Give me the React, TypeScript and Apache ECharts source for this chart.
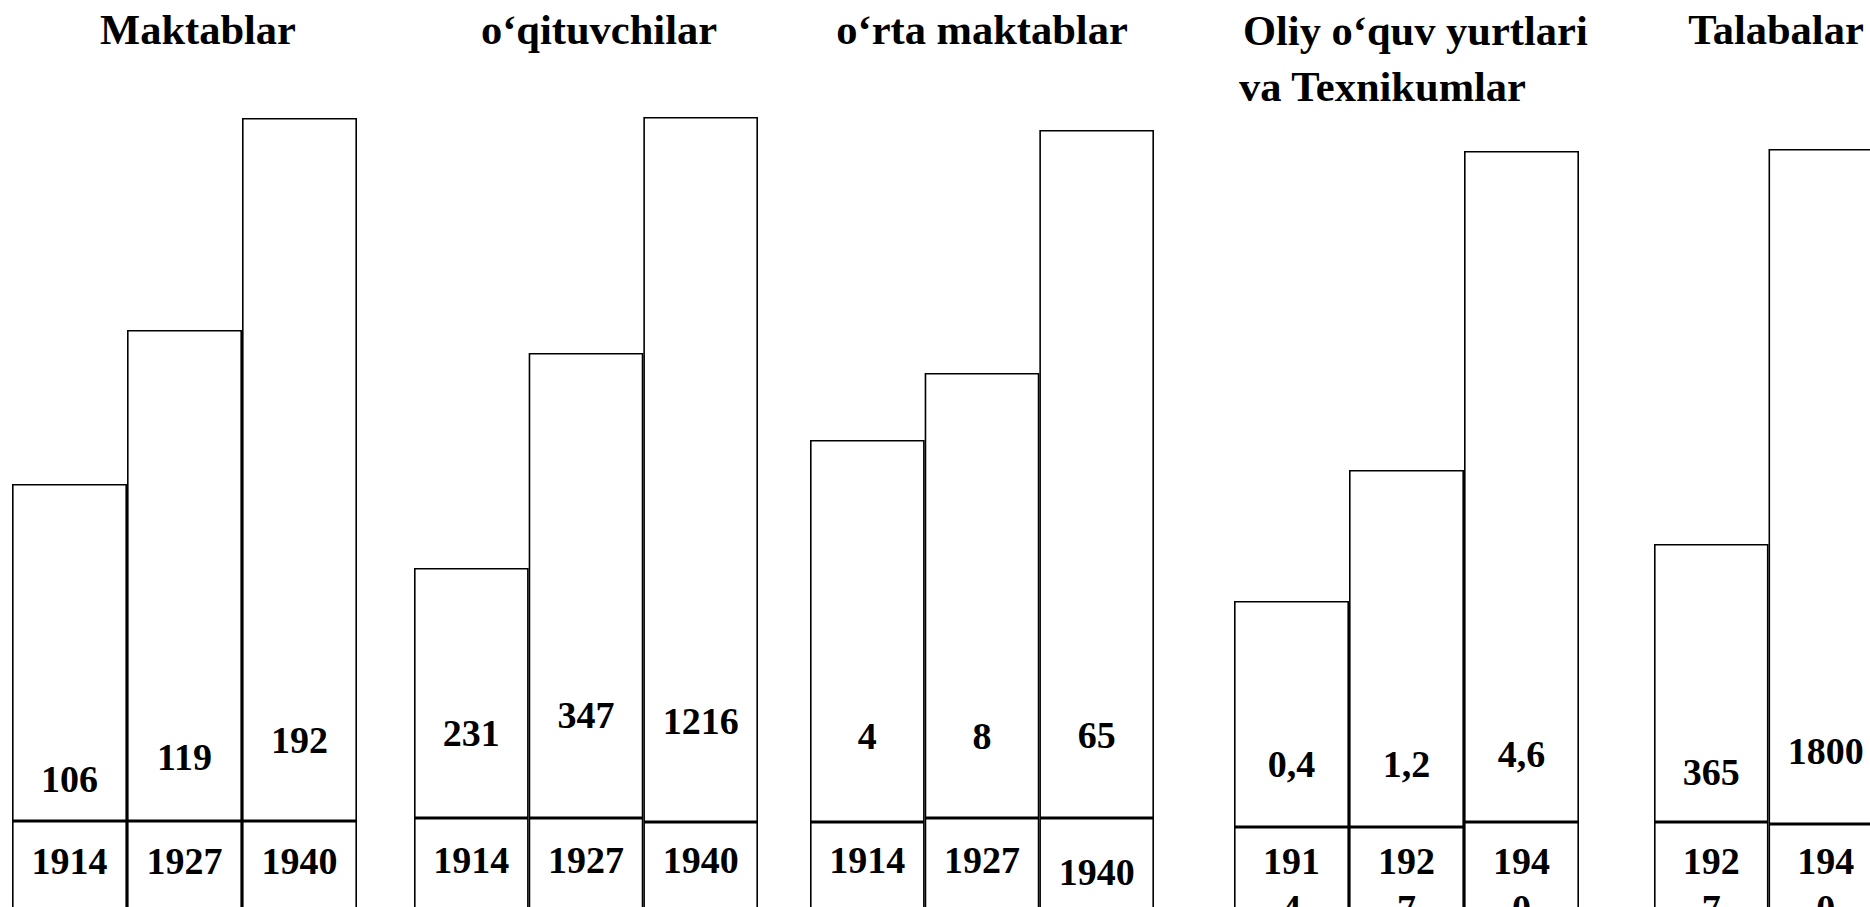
import React, { useEffect, useRef } from "react";
import * as echarts from "echarts";

// ---- data ----
const groupTitles = [
  "Maktablar",
  "o‘qituvchilar",
  "o‘rta maktablar",
  "Oliy o‘quv yurtlari\nva Texnikumlar",
  "Talabalar",
];

const maktablarYears = ["1914", "1927", "1940"];
const maktablarValues = [106, 119, 192];
const maktablarDrawnHeights = [337, 491, 703];

const oqituvchilarYears = ["1914", "1927", "1940"];
const oqituvchilarValues = [231, 347, 1216];
const oqituvchilarDrawnHeights = [250, 465, 705];

const ortaMaktablarYears = ["1914", "1927", "1940"];
const ortaMaktablarValues = [4, 8, 65];
const ortaMaktablarDrawnHeights = [382, 445, 688];

const oliyYears = ["1914", "1927", "1940"];
const oliyValues = [0.4, 1.2, 4.6];
const oliyDrawnHeights = [226, 357, 671];

const talabalarYears = ["1927", "1940"];
const talabalarValues = [365, 1800];
const talabalarDrawnHeights = [278, 675];

const groupYears = [maktablarYears, oqituvchilarYears, ortaMaktablarYears, oliyYears, talabalarYears];
const groupValues = [maktablarValues, oqituvchilarValues, ortaMaktablarValues, oliyValues, talabalarValues];
const groupHeights = [
  maktablarDrawnHeights,
  oqituvchilarDrawnHeights,
  ortaMaktablarDrawnHeights,
  oliyDrawnHeights,
  talabalarDrawnHeights,
];

// ---- layout / style ----
const CHART_W = 1920;
const CHART_H = 960;
const FONT = '"Liberation Serif", "Times New Roman", serif';
const GROUP_BOX = [
  { left: 12, width: 345 },
  { left: 414, width: 344 },
  { left: 810, width: 344 },
  { left: 1234, width: 345 },
  { left: 1654, width: 229 },
];
const DIVIDER_Y = [
  [821, 821, 821],
  [818, 818, 822],
  [822, 818, 818],
  [827, 827, 822],
  [822, 824],
];
const VALUE_BASELINE = [
  [792, 770, 753],
  [746, 728, 734],
  [749, 749, 748],
  [777, 777, 767],
  [785, 764],
];
const YEAR_BASELINE = [
  [874, 874, 874],
  [873, 873, 873],
  [873, 873, 885],
  [874, 874, 874],
  [874, 874],
];
const YEAR_WRAP = [false, false, false, true, true];
const TITLE_POS = [
  [{ x: 198, y: 44, align: "center" }],
  [{ x: 599, y: 44, align: "center" }],
  [{ x: 982, y: 44, align: "center" }],
  [
    { x: 1243, y: 45, align: "left" },
    { x: 1239, y: 101, align: "left" },
  ],
  [{ x: 1776, y: 44, align: "center" }],
];
const TITLE_SIZE = 42.5;
const LABEL_SIZE = 38;
const YEAR_LINE = 47;
const MID_SHIFT = 0.3375; // baseline -> em-box centre

function fmtValue(v: number): string {
  return String(v).replace(".", ",");
}

function buildOption() {
  const grid: any[] = [];
  const xAxis: any[] = [];
  const yAxis: any[] = [];
  const series: any[] = [];
  const graphic: any[] = [];

  groupYears.forEach((years, g) => {
    grid.push({ left: GROUP_BOX[g].left, width: GROUP_BOX[g].width, top: 0, bottom: 0, containLabel: false });
    xAxis.push({ type: "category", gridIndex: g, data: years, show: false });
    yAxis.push({ type: "value", gridIndex: g, min: 0, max: CHART_H, show: false });

    const itemStyle = { color: "#ffffff", borderColor: "#000000", borderWidth: 1.6 };
    const textBase = { fontFamily: FONT, fontWeight: "bold", fontSize: LABEL_SIZE, color: "#000" };

    series.push({
      type: "bar",
      name: "year-" + g,
      xAxisIndex: g,
      yAxisIndex: g,
      stack: "s" + g,
      barCategoryGap: "0%",
      itemStyle,
      silent: true,
      data: years.map((y, i) => ({
        value: CHART_H - DIVIDER_Y[g][i],
        label: {
          show: true,
          position: "insideTop",
          distance: YEAR_BASELINE[g][i] - DIVIDER_Y[g][i] - (YEAR_LINE / 2 + MID_SHIFT * LABEL_SIZE),
          formatter: () => (YEAR_WRAP[g] ? y.slice(0, 3) + "\n" + y.slice(3) : y),
          lineHeight: YEAR_LINE,
          ...textBase,
        },
      })),
    });

    series.push({
      type: "bar",
      name: "value-" + g,
      xAxisIndex: g,
      yAxisIndex: g,
      stack: "s" + g,
      barCategoryGap: "0%",
      itemStyle,
      silent: true,
      data: groupHeights[g].map((h, i) => ({
        value: h,
        label: {
          show: true,
          position: "insideBottom",
          distance: DIVIDER_Y[g][i] - VALUE_BASELINE[g][i] - (LABEL_SIZE / 2 - MID_SHIFT * LABEL_SIZE),
          formatter: () => fmtValue(groupValues[g][i]),
          lineHeight: LABEL_SIZE,
          ...textBase,
        },
      })),
    });

    const lines = groupTitles[g].split("\n");
    lines.forEach((line, k) => {
      const p = TITLE_POS[g][k];
      graphic.push({
        type: "text",
        x: p.x,
        y: p.y - MID_SHIFT * TITLE_SIZE,
        silent: true,
        style: {
          text: line,
          fontFamily: FONT,
          fontWeight: "bold",
          fontSize: TITLE_SIZE,
          fill: "#000",
          textAlign: p.align,
          textVerticalAlign: "middle",
        },
      });
    });
  });

  return {
    animation: false,
    backgroundColor: "#ffffff",
    grid,
    xAxis,
    yAxis,
    series,
    graphic,
  };
}

export default function App() {
  const ref = useRef<HTMLDivElement>(null);
  useEffect(() => {
    if (!ref.current) return;
    const chart = echarts.init(ref.current, undefined, { renderer: "svg" });
    chart.setOption(buildOption() as any);
    return () => chart.dispose();
  }, []);
  return (
    <div
      style={{
        position: "fixed",
        left: 0,
        top: 0,
        width: 1870,
        height: 907,
        overflow: "hidden",
        background: "#fff",
      }}
    >
      <div ref={ref} style={{ width: CHART_W, height: CHART_H }} />
    </div>
  );
}
